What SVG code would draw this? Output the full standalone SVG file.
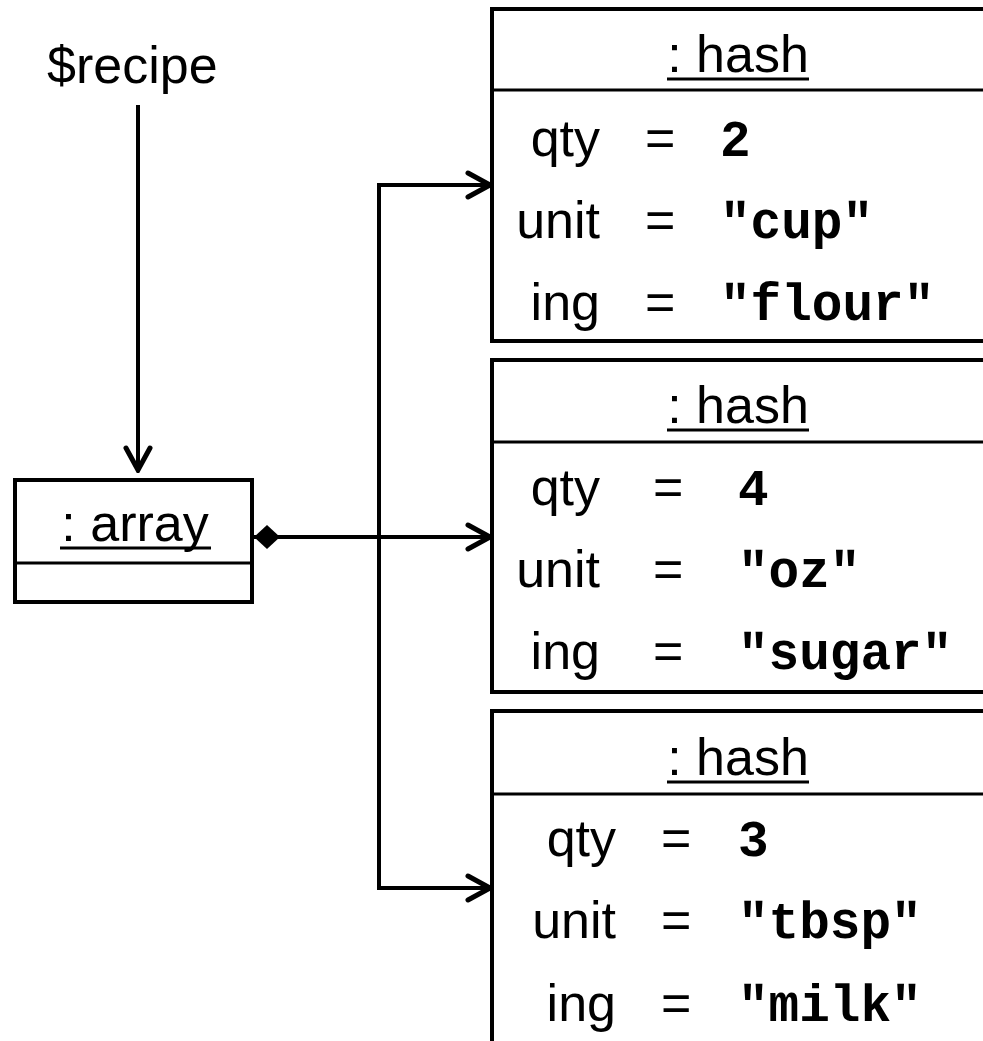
<svg xmlns="http://www.w3.org/2000/svg" width="983" height="1041" viewBox="0 0 983 1041">
  <style>
    .box { fill: #ffffff; stroke: #000000; stroke-width: 4; }
    .div { stroke: #000000; stroke-width: 3; }
    .uline { stroke: #000000; stroke-width: 3; }
    .edge { fill: none; stroke: #000000; stroke-width: 4; }
    .sans { font-family: "Liberation Sans", Arial, sans-serif; font-size: 52px; fill: #000000; }
    .title { text-anchor: middle; }
    .key { text-anchor: end; }
    .mono { font-family: "Liberation Mono", "Courier New", monospace; font-size: 51px; font-weight: bold; fill: #000000; }
  </style>
  <defs>
    <marker id="open-arrow" markerUnits="userSpaceOnUse" viewBox="0 0 28 30" refX="25" refY="15" markerWidth="28" markerHeight="30" orient="auto">
      <path d="M3,3 L25,15 L3,27" fill="none" stroke="#000000" stroke-width="5" stroke-linecap="round" stroke-linejoin="miter"/>
    </marker>
    <marker id="diamond" markerUnits="userSpaceOnUse" viewBox="0 0 26 24" refX="0" refY="12" markerWidth="26" markerHeight="24" orient="auto">
      <path d="M0,12 L13,0 L26,12 L13,24 Z" fill="#000000"/>
    </marker>
  </defs>

  <rect width="983" height="1041" fill="#ffffff"/>

  <!-- variable label -->
  <g id="recipe-var">
    <text class="sans" x="47" y="83">$recipe</text>
  </g>

  <!-- array object -->
  <g id="array">
    <rect class="box" x="15" y="480" width="237" height="122"/>
    <line class="div" x1="15" y1="563" x2="252" y2="563"/>
    <text class="sans title" x="135" y="541">: array</text>
    <line class="uline" x1="60" y1="548" x2="211" y2="548"/>
  </g>

  <!-- hash objects -->
  <g id="hash-flour">
    <rect class="box" x="492" y="9" width="540" height="332"/>
    <line class="div" x1="492" y1="90" x2="1000" y2="90"/>
    <text class="sans title" x="738" y="72">: hash</text>
    <line class="uline" x1="667" y1="79" x2="809" y2="79"/>
    <text class="sans key" x="600" y="156">qty</text>
    <text class="sans" x="645" y="156">=</text>
    <text class="mono" x="720" y="156">2</text>
    <text class="sans key" x="600" y="238">unit</text>
    <text class="sans" x="645" y="238">=</text>
    <text class="mono" x="720" y="238">"cup"</text>
    <text class="sans key" x="600" y="320">ing</text>
    <text class="sans" x="645" y="320">=</text>
    <text class="mono" x="720" y="320">"flour"</text>
  </g>

  <g id="hash-sugar">
    <rect class="box" x="492" y="360" width="540" height="332"/>
    <line class="div" x1="492" y1="442" x2="1000" y2="442"/>
    <text class="sans title" x="738" y="423">: hash</text>
    <line class="uline" x1="667" y1="430" x2="809" y2="430"/>
    <text class="sans key" x="600" y="505">qty</text>
    <text class="sans" x="653" y="505">=</text>
    <text class="mono" x="738" y="505">4</text>
    <text class="sans key" x="600" y="587">unit</text>
    <text class="sans" x="653" y="587">=</text>
    <text class="mono" x="738" y="587">"oz"</text>
    <text class="sans key" x="600" y="669">ing</text>
    <text class="sans" x="653" y="669">=</text>
    <text class="mono" x="738" y="669">"sugar"</text>
  </g>

  <g id="hash-milk">
    <rect class="box" x="492" y="711" width="540" height="380"/>
    <line class="div" x1="492" y1="794" x2="1000" y2="794"/>
    <text class="sans title" x="738" y="775">: hash</text>
    <line class="uline" x1="667" y1="782" x2="809" y2="782"/>
    <text class="sans key" x="616" y="856">qty</text>
    <text class="sans" x="661" y="856">=</text>
    <text class="mono" x="738" y="856">3</text>
    <text class="sans key" x="616" y="938">unit</text>
    <text class="sans" x="661" y="938">=</text>
    <text class="mono" x="738" y="938">"tbsp"</text>
    <text class="sans key" x="616" y="1021">ing</text>
    <text class="sans" x="661" y="1021">=</text>
    <text class="mono" x="738" y="1021">"milk"</text>
  </g>

  <!-- connectors -->
  <g id="connectors">
    <line class="edge" x1="138" y1="105" x2="138" y2="470" marker-end="url(#open-arrow)"/>
    <line class="edge" x1="254" y1="537" x2="490" y2="537" marker-start="url(#diamond)" marker-end="url(#open-arrow)"/>
    <polyline class="edge" points="379,537 379,185 490,185" marker-end="url(#open-arrow)"/>
    <polyline class="edge" points="379,537 379,888 490,888" marker-end="url(#open-arrow)"/>
  </g>
</svg>
